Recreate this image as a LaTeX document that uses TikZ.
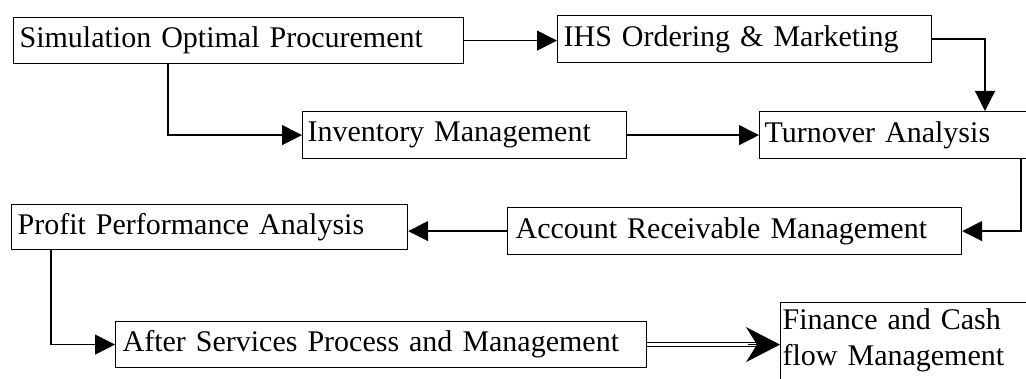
\documentclass[tikz,border=0pt]{standalone}
\usepackage{fontspec}
\setmainfont[WordSpace=1.55]{Liberation Serif}
\usetikzlibrary{arrows.meta}
\begin{document}
\begin{tikzpicture}[x=1pt,y=-1pt,
  box/.style={draw, line width=1.2pt, anchor=north west, inner xsep=6pt, inner ysep=0pt,
    align=left, font=\fontsize{30}{36}\selectfont},
  arr/.style={line width=1.2pt, -{Triangle[length=20pt,width=20pt]}},
  dbl/.style={line width=1pt, double, double distance=2.6pt},
  bigtip/.style={line width=1pt, -{Stealth[length=34pt,width=35pt,inset=11pt]}}]
\useasboundingbox (0,0) rectangle (1026,379);

\node[box, minimum height=46pt, text width=438pt] (sim) at (13,17) {Simulation Optimal Procurement};
\node[box, minimum height=47pt, text width=362pt] (ihs) at (557,15) {IHS Ordering \& Marketing};
\node[box, minimum height=47pt, text width=314pt, inner xsep=5pt] (inv) at (302,111) {Inventory Management};
\node[box, minimum height=47pt, text width=292pt, inner xsep=5pt] (turn) at (759,111) {Turnover Analysis};
\node[box, minimum height=47pt, text width=438pt, inner xsep=8pt] (acc) at (507,207) {Account Receivable Management};
\node[box, minimum height=45pt, text width=384pt] (prof) at (11,204) {Profit Performance Analysis};
\node[box, minimum height=46pt, text width=517pt, inner xsep=7pt] (after) at (115,321) {After Services Process and Management};
\node[box, inner xsep=2pt, inner ysep=6pt, text width=290pt] (fin) at (780,302)
  {Finance and Cash\\flow Management\rule[-40pt]{0pt}{0pt}};

\draw[arr] (sim.east) -- (sim.east -| ihs.west);
\draw[arr] (ihs.east) -| ([xshift=226pt]turn.north west);
\draw[arr] ([xshift=155pt]sim.south west) |- (inv.west);
\draw[arr] (inv.east) -- (inv.east -| turn.west);
\draw[arr] ([xshift=262pt]turn.south west) |- (acc.east);
\draw[arr] (acc.west) -- (acc.west -| prof.east);
\draw[arr] ([xshift=40pt]prof.south west) |- (after.west);
\draw[dbl, shorten >=24pt] (after.east) -- (after.east -| fin.west);
\draw[bigtip] ([xshift=-32pt]after.east -| fin.west) -- (after.east -| fin.west);
\end{tikzpicture}
\end{document}
